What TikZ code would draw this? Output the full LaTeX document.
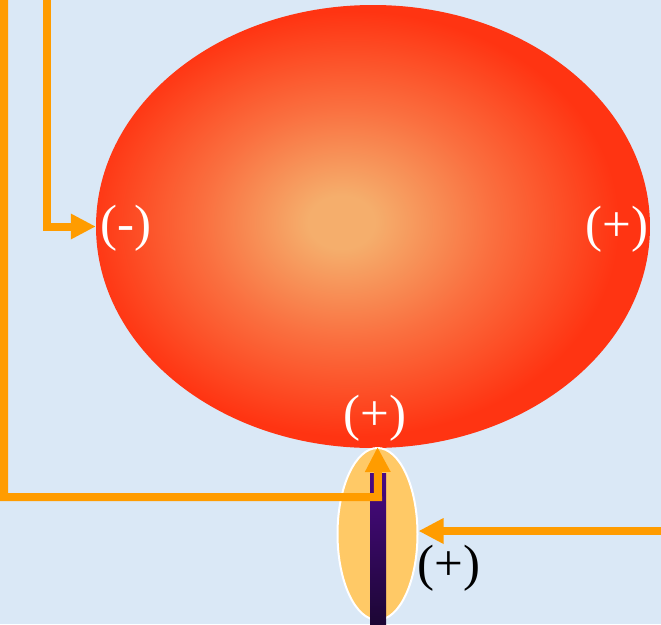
\documentclass[tikz,border=0pt]{standalone}
\usepackage{fontspec}
\setmainfont{Liberation Serif}
\usetikzlibrary{arrows.meta,shapes.geometric}
\definecolor{bg}{HTML}{DAE8F6}
\definecolor{wirec}{HTML}{FF9C00}
\definecolor{capc}{HTML}{FFC966}
\definecolor{cA}{HTML}{F5AE6C}
\definecolor{cB}{HTML}{FA7040}
\definecolor{cC}{HTML}{FF3412}
\definecolor{barT}{HTML}{4A0A84}
\definecolor{barB}{HTML}{1C0634}
\pgfdeclareradialshading{bulb}{\pgfpoint{-3bp}{0.5bp}}{color(0bp)=(cA); color(3bp)=(cA); color(13bp)=(cB); color(24bp)=(cC); color(60bp)=(cC)}
\tikzset{
  wire/.style={draw=wirec, line width=8pt, line join=miter, -{Triangle[length=25pt,width=24pt]}},
  lbl/.style={font=\fontsize{51}{56}\selectfont, inner sep=0pt},
}
\begin{document}
\begin{tikzpicture}[x=1pt,y=-1pt]
\fill[bg] (0,0) rectangle (661,624);
\useasboundingbox (0,0) rectangle (661,624);
\node[ellipse, shading=bulb, minimum width=554pt, minimum height=443pt, inner sep=0pt] (big) at (373,226.5) {};
\node[ellipse, draw=white, line width=2pt, fill=capc, minimum width=80pt, minimum height=172pt, inner sep=0pt] (small) at (377.5,534) {};
\node[rectangle, minimum width=16pt, minimum height=151pt, inner sep=0pt, top color=barT, bottom color=barB, draw=none] (bar) at (378,548.5) {};
\coordinate (t1) at (47,-10);
\coordinate (t2) at (4,-10);
\coordinate (j) at (378,497);
\coordinate (r) at (670,531);
\draw[wire] (t1) |- (big.west);
\draw[wire] (t2) |- (j) -- (small.north);
\draw[wire] (r) -- (r -| small.east);
\node[lbl, text=white] (m) at (126,228) {(-)};
\node[lbl, text=white] (p1) at (617,229) {(+)};
\node[lbl, text=white] (p2) at (375,418) {(+)};
\node[lbl, text=black] (p3) at (449,568) {(+)};
\end{tikzpicture}
\end{document}
